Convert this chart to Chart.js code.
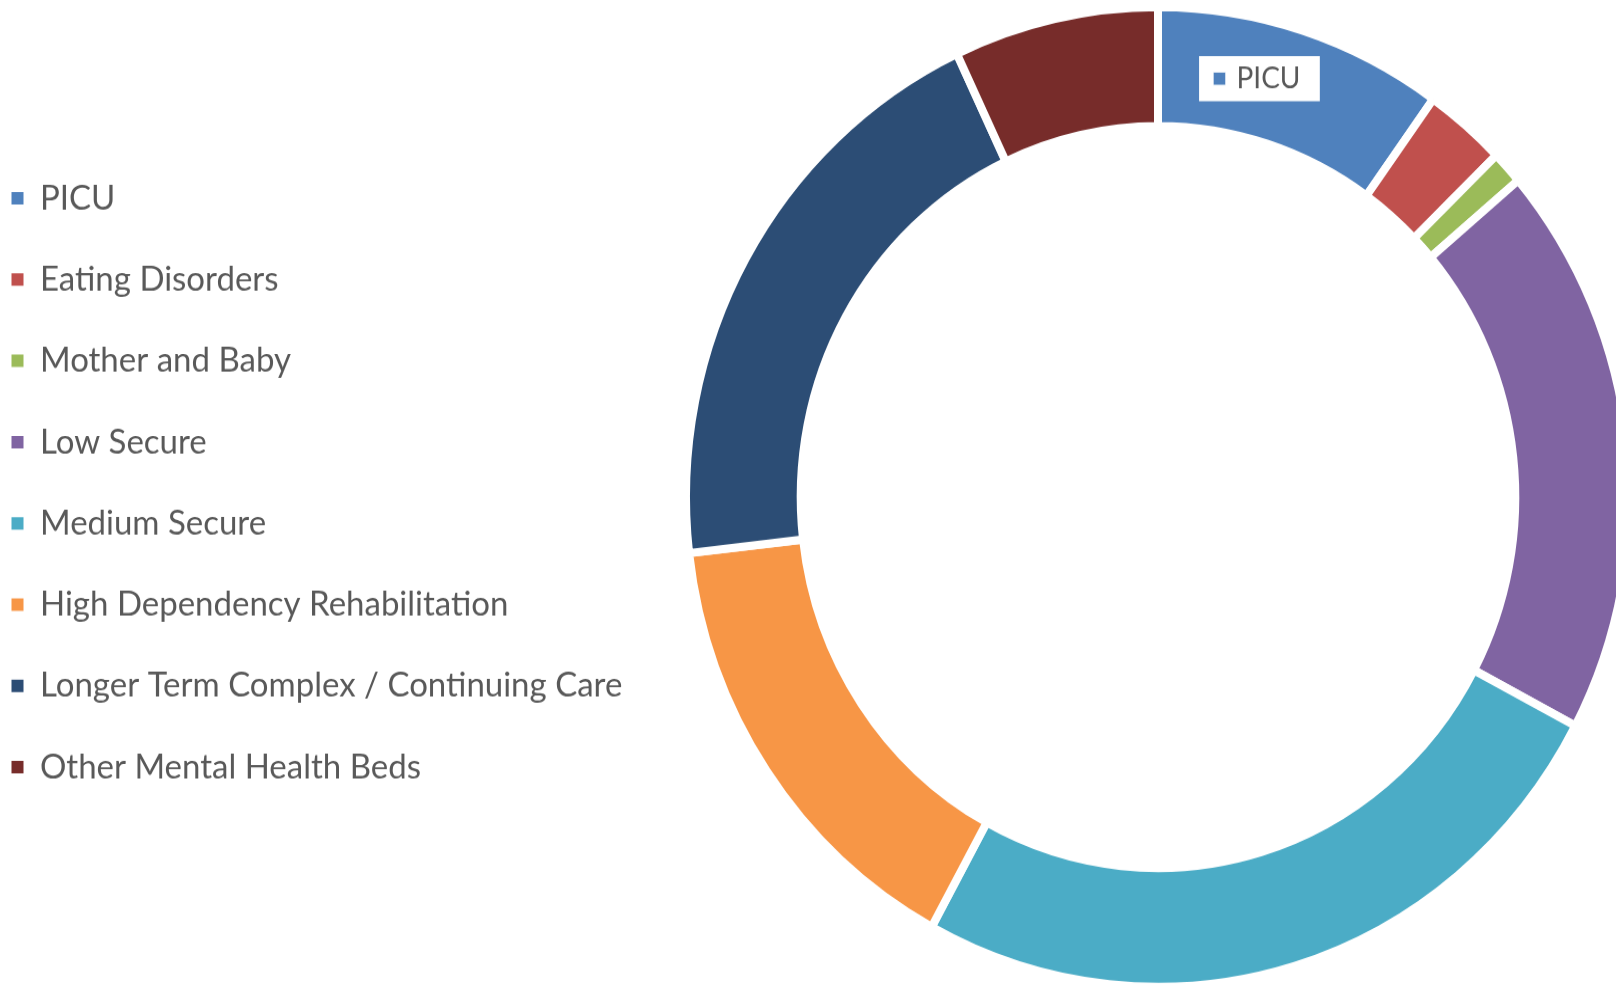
<!DOCTYPE html>
<html><head><meta charset="utf-8">
<script src="https://cdn.jsdelivr.net/npm/chart.js@4.4.1/dist/chart.umd.min.js"></script>
<style>
html,body{margin:0;padding:0;background:#fff;overflow:hidden;width:1616px;height:985px;}
#wrap{position:absolute;left:0;top:0;width:1800px;height:956px;transform:scaleY(1.038);transform-origin:0 0;}
canvas{display:block;}
</style></head><body>
<div id="wrap"><canvas id="c" width="1800" height="956"></canvas></div>
<script>
const categories = [
  'PICU',
  'Eating Disorders',
  'Mother and Baby',
  'Low Secure',
  'Medium Secure',
  'High Dependency Rehabilitation',
  'Longer Term Complex / Continuing Care',
  'Other Mental Health Beds'
];
const shareValues = [9.9, 2.8, 1.1, 18.9, 25.2, 15.2, 19.8, 7.0];
const sliceColors = ['#4F81BD', '#C0504D', '#9BBB59', '#8064A2', '#4BACC6', '#F79646', '#2C4D75', '#772C2A'];
const highlightedIndex = 0;

const CANVAS_W = 1800;
const CENTER_X = 1158;

Chart.defaults.font.family = 'Lato';

Chart.Tooltip.positioners.ringPoint = function(elements) {
  if (!elements.length) return false;
  const el = elements[0].element;
  const p = el.getProps(['x', 'y', 'startAngle', 'endAngle', 'innerRadius', 'outerRadius'], true);
  const a = p.startAngle + 0.396 * (p.endAngle - p.startAngle);
  const r = (p.innerRadius + p.outerRadius) / 2 + 1.0;
  return {x: p.x + Math.cos(a) * r, y: p.y + Math.sin(a) * r};
};

const baseGenerate = Chart.overrides.doughnut.plugins.legend.labels.generateLabels;

const chart = new Chart(document.getElementById('c'), {
  type: 'doughnut',
  data: {
    labels: categories,
    datasets: [{
      data: shareValues,
      backgroundColor: sliceColors,
      borderColor: '#ffffff',
      borderWidth: 8,
      hoverOffset: 0
    }]
  },
  options: {
    responsive: false,
    animation: false,
    devicePixelRatio: 1,
    cutout: '75.7%',
    events: [],
    layout: {padding: {left: -33.8, top: 2.8, bottom: 1.2, right: 0}},
    plugins: {
      legend: {
        position: 'left',
        align: 'start',
        title: {display: true, text: ' ', font: {size: 10}, padding: {top: 0, bottom: 114.4}},
        labels: {
          boxWidth: 12,
          boxHeight: 12,
          padding: 45.3,
          color: '#595959',
          font: {family: 'Lato', size: 33},
          generateLabels: (c) => baseGenerate(c).map(l => Object.assign(l, {lineWidth: 0}))
        }
      },
      tooltip: {
        enabled: true,
        position: 'ringPoint',
        xAlign: 'center',
        yAlign: 'center',
        backgroundColor: '#ffffff',
        bodyColor: '#595959',
        bodyFont: {family: 'Lato', size: 28},
        padding: {left: 5.4, right: 19.4, top: 5, bottom: 5},
        caretSize: 0,
        caretPadding: 0,
        cornerRadius: 0,
        borderWidth: 0,
        displayColors: true,
        usePointStyle: true,
        boxWidth: 30,
        boxHeight: 18,
        callbacks: {
          title: () => '',
          label: (ctx) => ctx.label,
          labelPointStyle: () => ({pointStyle: 'rect', rotation: 0})
        }
      }
    }
  }
});

const L = chart.chartArea.left;
chart.options.layout.padding.right = CANVAS_W - (2 * CENTER_X - L);
chart.update();
chart.tooltip.setActiveElements([{datasetIndex: 0, index: highlightedIndex}], {x: 0, y: 0});
chart.update();
</script>
</body></html>
